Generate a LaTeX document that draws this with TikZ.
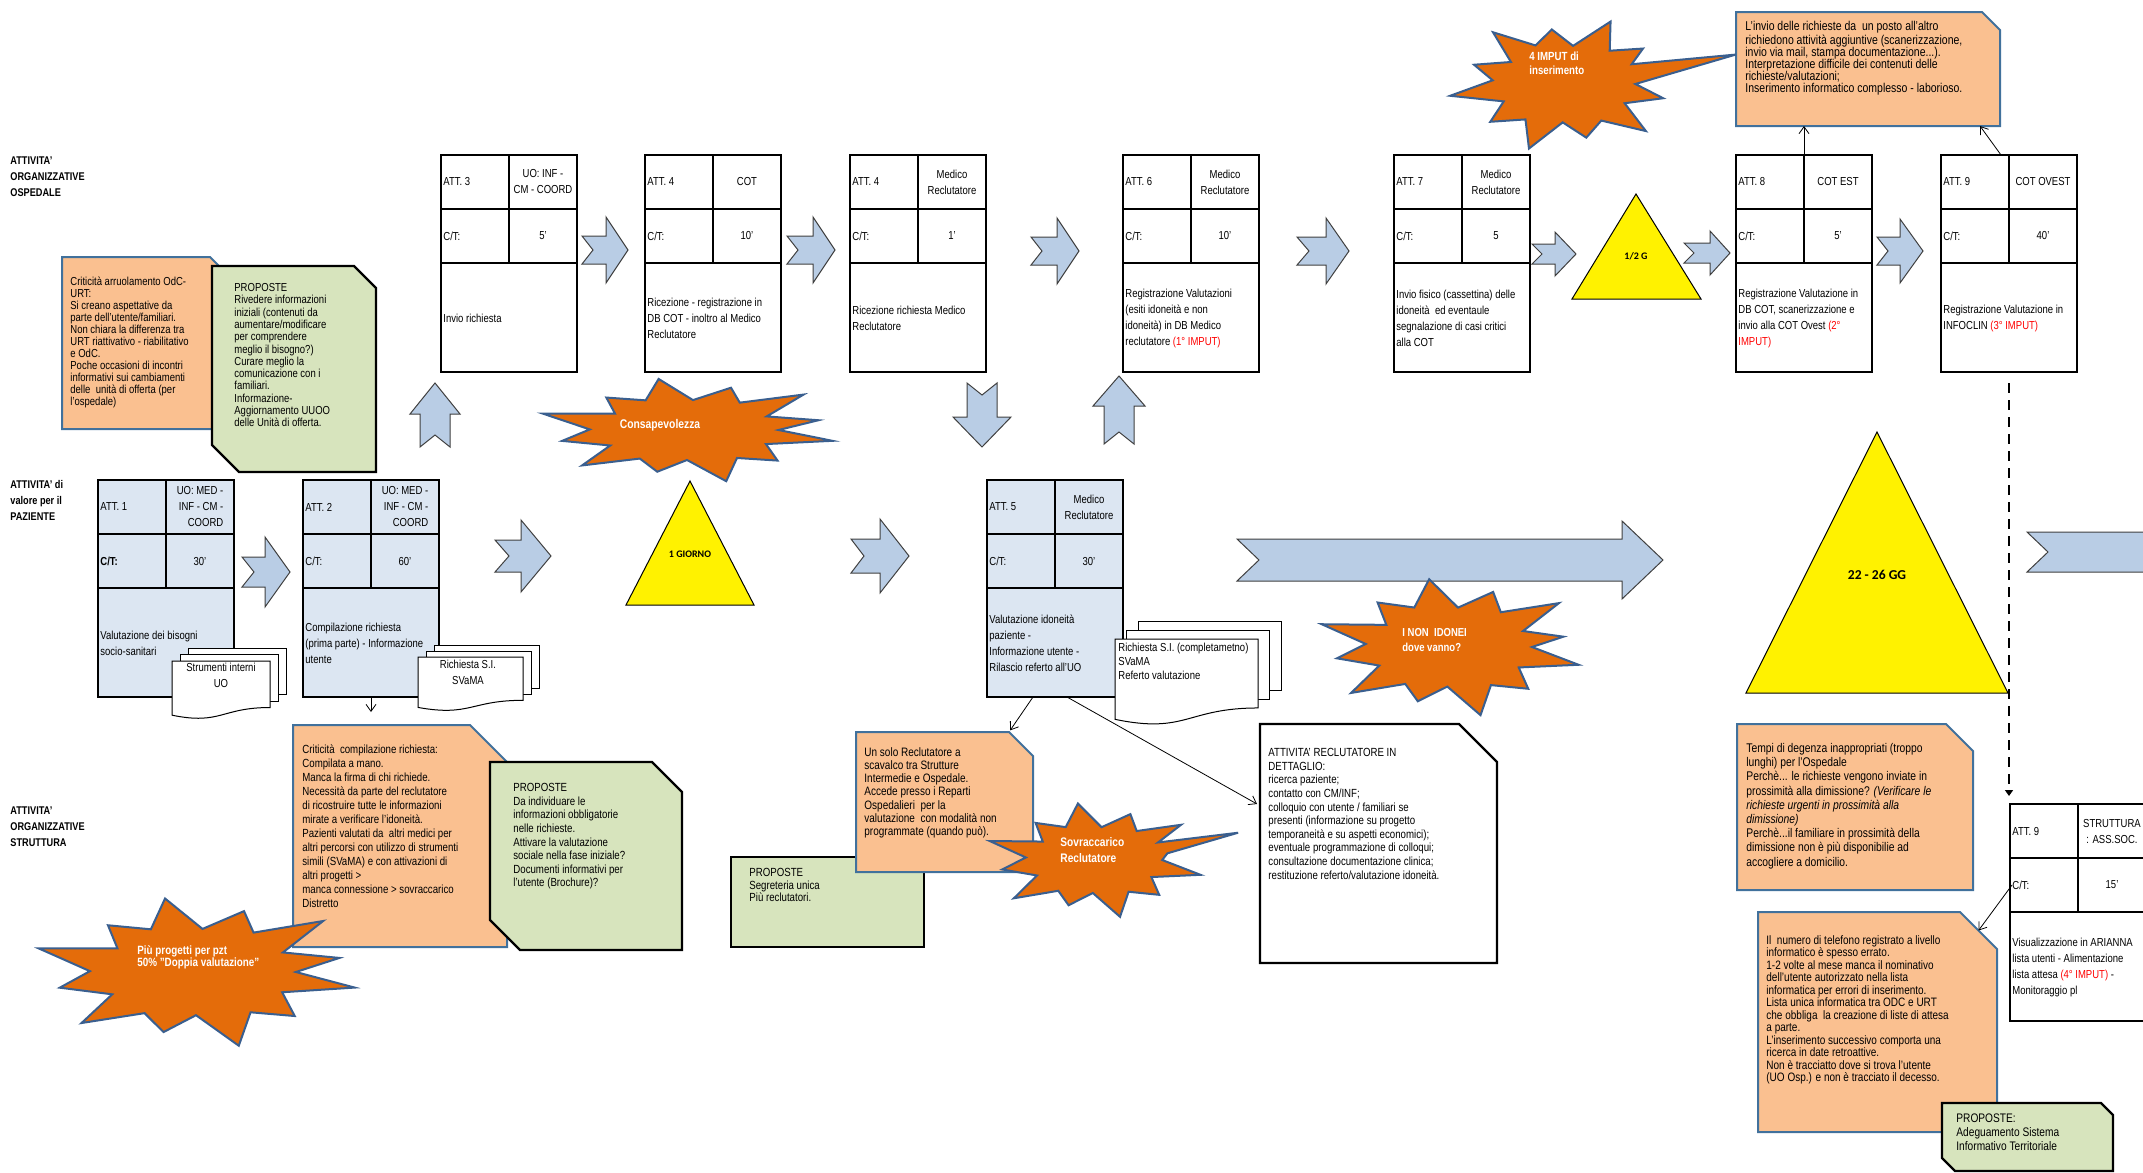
\documentclass[tikz,border=0pt]{standalone}
\usepackage{fontspec}
\setmainfont{Liberation Sans}[FakeStretch=0.82]
\newfontfamily\calfont{Carlito}
\usetikzlibrary{arrows.meta}

\definecolor{attblue}{HTML}{DCE6F2}
\definecolor{chevblue}{HTML}{B9CDE5}
\definecolor{noteorange}{HTML}{FAC090}
\definecolor{noteedge}{HTML}{41719C}
\definecolor{notegreen}{HTML}{D7E4BD}
\definecolor{burstorange}{HTML}{E46C0A}
\definecolor{burstedge}{HTML}{3A5F8F}
\definecolor{imputred}{HTML}{FF0000}

% name, x, y, fill, title, who, time, text, time label
\newcommand{\attbox}[9]{%
	\node[attframe, fill=#4, anchor=north west] at (#2,#3) (#1) {};
	\draw[attline] (#2,{#3+54}) -- ++(136,0) (#2,{#3+108}) -- ++(136,0) ({#2+68},#3) -- ++(0,108);
	\node[cell, anchor=west] at ({#2+2},{#3+27}) (#1-t) {#5};
	\node[cell, align=center] at ({#2+102},{#3+27}) (#1-w) {#6};
	\node[cell, anchor=west] at ({#2+2},{#3+81}) (#1-c) {#9};
	\node[cell] at ({#2+102},{#3+81}) (#1-v) {#7};
	\node[cell, anchor=west, align=left] at ({#2+2},{#3+163}) (#1-d) {#8};
}
% name, style, x1, y1, x2, y2, cut ne, cut sw
\newcommand{\cutbox}[8]{%
	\draw[#2] (#3,#4) -- ({#5-#7},#4) -- (#5,{#4+#7}) -- (#5,#6) -- ({#3+#8},#6) -- (#3,{#6-#8}) -- cycle;
	\coordinate (#1-ne) at ({#5-#7},#4);
	\coordinate (#1-cut) at ({#5-#7/2},{#4+#7/2});
	\coordinate (#1-n) at ({(#3+#5)/2},#4);
	\coordinate (#1-s) at ({(#3+#5)/2},#6);
	\coordinate (#1-se) at (#5,#6);
}
% rotation, cx, cy, half length, half height, head, half body, notch
\newcommand{\blockarrow}[8]{%
	\draw[chev, shift={(#2,#3)}, rotate=#1] (-#4,-#7) -- ({#4-#6},-#7) -- ({#4-#6},-#5) -- (#4,0) -- ({#4-#6},#5) -- ({#4-#6},#7) -- (-#4,#7) -- ({-#4+#8},0) -- cycle;
}
% name, x, y, w, h, dx, dy
\newcommand{\docstack}[7]{%
	\draw[docpage] ({#2+2*#6},{#3-2*#7}) rectangle ++(#4,{0.8*#5});
	\draw[docpage] ({#2+#6},{#3-#7}) rectangle ++(#4,{0.8*#5});
	\draw[docpage] (#2,#3) -- ({#2+#4},#3) -- ({#2+#4},{#3+0.802*#5}) .. controls ({#2+0.5*#4},{#3+0.802*#5}) and ({#2+0.5*#4},{#3+1.107*#5}) .. (#2,{#3+0.934*#5}) -- cycle;
	\coordinate (#1) at (#2,#3);
}
% name, cx, cy, rx, ry, points
\newcommand{\burst}[6]{%
	\draw[burstshape, shift={(#2,#3)}, xscale=#4, yscale=#5] (0:0.64) \foreach \ba/\br in {#6} { -- (\ba:\br) } -- cycle;
	\coordinate (#1) at (#2,#3);
}

\begin{document}
\begin{tikzpicture}[x=0.5pt, y=-0.5pt,
	cell/.style={inner sep=0pt, font=\fontsize{5.8}{8}\selectfont},
	attframe/.style={draw, line width=1pt, minimum width=68pt, minimum height=108.5pt, inner sep=0pt, outer sep=0pt},
	attline/.style={line width=1pt},
	chev/.style={fill=chevblue, draw=black!75, line width=0.5pt},
	note/.style={fill=noteorange, draw=noteedge, line width=1pt},
	prop/.style={fill=notegreen, draw=black, line width=1.2pt},
	dettbox/.style={fill=white, draw=black, line width=1.2pt},
	notetext/.style={anchor=north west, inner sep=0pt, align=left},
	burstshape/.style={fill=burstorange, draw=burstedge, line width=1pt},
	bursttext/.style={text=white, inner sep=0pt, align=left},
	side/.style={anchor=north west, inner sep=0pt, align=left, font=\bfseries\fontsize{5.6}{8}\selectfont},
	tri/.style={fill=yellow, draw=black, line width=0.5pt},
	trilabel/.style={inner sep=0pt, font=\calfont\bfseries\fontsize{5}{6}\selectfont},
	docpage/.style={fill=white, draw=black, line width=0.5pt},
	doctext/.style={inner sep=0pt, font=\fontsize{5.8}{7.8}\selectfont},
	thinarrow/.style={line width=0.4pt, -{Straight Barb[length=3.5pt,width=5pt]}},
	dashline/.style={line width=1.2pt, dash pattern=on 5pt off 3.5pt, -{Triangle[length=3pt,width=4pt]}}
]
\useasboundingbox (0,0) rectangle (2143,1173);
\clip (0,0) rectangle (2143,1173);

\node[side] at (10,156) (lab-osp) {ATTIVITA'\\ORGANIZZATIVE\\OSPEDALE};
\node[side] at (10,480) (lab-paz) {ATTIVITA' di\\valore per il\\PAZIENTE};
\node[side] at (10,806) (lab-str) {ATTIVITA'\\ORGANIZZATIVE\\STRUTTURA};

% flow arrows
\blockarrow{0}{266}{572}{24}{35}{25}{15}{12}
\blockarrow{0}{523}{556}{28}{36}{30}{16}{14}
\blockarrow{0}{605}{250}{23}{33}{22}{14}{11}
\blockarrow{0}{811}{250}{24}{33}{22}{14}{11}
\blockarrow{0}{1055}{251}{24}{33}{22}{14}{11}
\blockarrow{0}{1323}{251}{26}{33}{23}{14}{12}
\blockarrow{0}{1554}{254}{22}{22}{21}{10}{10}
\blockarrow{0}{1707}{253}{23}{22}{20}{10}{10}
\blockarrow{0}{1900}{251}{23}{32}{23}{14}{11}
\blockarrow{0}{880}{556}{29}{37}{29}{17}{13}
\blockarrow{0}{1450}{560}{213}{39}{41}{21}{22}
\blockarrow{0}{2127}{552}{100}{39}{41}{20}{21}
\blockarrow{90}{435}{415}{32}{25}{31}{15}{12}
\blockarrow{-90}{982}{415}{32}{29}{30}{15}{12}
\blockarrow{90}{1119}{410}{34}{26}{30}{15}{12}

% waiting times
\draw[tri] (626,605) -- (690,481) -- (754,605) -- cycle;
\node[trilabel] at (690,554) (t-giorno) {1 GIORNO};
\draw[tri] (1572,299) -- (1636,194) -- (1701,299) -- cycle;
\node[trilabel] at (1636,256) (t-mezzo) {1/2 G};
\draw[tri] (1746,693) -- (1877,432) -- (2008,693) -- cycle;
\node[trilabel, font=\calfont\bfseries\fontsize{6.8}{8}\selectfont] at (1877,575) (t-gg) {22 - 26 GG};

% activities
\attbox{att1}{98}{480}{attblue}{ATT. 1}{\begin{tabular}{@{}r@{}}UO: MED -\\INF - CM -\\COORD\end{tabular}}{30'}{Valutazione dei bisogni\\socio-sanitari}{\textbf{C/T:}}
\attbox{att2}{303}{480}{attblue}{ATT. 2}{\begin{tabular}{@{}r@{}}UO: MED -\\INF - CM -\\COORD\end{tabular}}{60'}{Compilazione richiesta\\(prima parte) - Informazione\\utente}{C/T:}
\attbox{att3}{441}{155}{white}{ATT. 3}{UO: INF -\\CM - COORD}{5'}{Invio richiesta}{C/T:}
\attbox{att4}{645}{155}{white}{ATT. 4}{COT}{10'}{Ricezione - registrazione in\\DB COT - inoltro al Medico\\Reclutatore}{C/T:}
\attbox{att4m}{850}{155}{white}{ATT. 4}{Medico\\Reclutatore}{1'}{Ricezione richiesta Medico\\Reclutatore}{C/T:}
\attbox{att6}{1123}{155}{white}{ATT. 6}{Medico\\Reclutatore}{10'}{Registrazione Valutazioni\\(esiti idoneità e non\\idoneità) in DB Medico\\reclutatore \textcolor{imputred}{(1° IMPUT)}}{C/T:}
\attbox{att7}{1394}{155}{white}{ATT. 7}{Medico\\Reclutatore}{5}{Invio fisico (cassettina) delle\\idoneità~ ed eventaule\\segnalazione di casi critici\\alla COT}{C/T:}
\attbox{att8}{1736}{155}{white}{ATT. 8}{COT EST}{5'}{Registrazione Valutazione in\\DB COT, scanerizzazione e\\invio alla COT Ovest \textcolor{imputred}{(2°}\\\textcolor{imputred}{IMPUT)}}{C/T:}
\attbox{att9}{1941}{155}{white}{ATT. 9}{COT OVEST}{40'}{Registrazione Valutazione in\\INFOCLIN \textcolor{imputred}{(3° IMPUT)}}{C/T:}
\attbox{att5}{987}{480}{attblue}{ATT. 5}{Medico\\Reclutatore}{30'}{Valutazione idoneità\\paziente -\\Informazione utente -\\Rilascio referto all'UO}{C/T:}
\attbox{att9s}{2010}{804}{white}{ATT. 9}{STRUTTURA\\: ASS.SOC.}{15'}{Visualizzazione in ARIANNA\\lista utenti - Alimentazione\\lista attesa \textcolor{imputred}{(4° IMPUT)} -\\Monitoraggio pl}{C/T:}

% documents
\docstack{strum}{172}{661}{98}{58}{8.3}{6.3}
\node[doctext, align=center, anchor=north] at (221,663) (strum-t) {Strumenti interni\\UO};
\docstack{svama}{418}{657}{105}{54}{8.3}{6}
\node[doctext, align=center, anchor=north] at (468,660) (svama-t) {Richiesta S.I.\\SVaMA};
\docstack{compl}{1115}{639}{143}{86}{11.7}{8.6}
\node[doctext, align=left, anchor=north west, font=\fontsize{5.8}{6.8}\selectfont] at (1118,643) (compl-t) {Richiesta S.I. (completametno)\\SVaMA\\Referto valutazione};

% notes
\cutbox{critA}{note}{62}{257}{218}{429}{8}{0}
\node[notetext, font=\fontsize{5.8}{6}\selectfont] at (70,277) (critA-t) {Criticità arruolamento OdC-\\URT:\\Si creano aspettative da\\parte dell'utente/familiari.\\Non chiara la differenza tra\\URT riattivativo - riabilitativo\\e OdC.\\Poche occasioni di incontri\\informativi sui cambiamenti\\delle~ unità di offerta (per\\l'ospedale)};
\cutbox{propA}{prop}{212}{266}{376}{472}{22}{27}
\node[notetext, font=\fontsize{5.8}{6.15}\selectfont] at (234,283) (propA-t) {PROPOSTE\\Rivedere informazioni\\iniziali (contenuti da\\aumentare/modificare\\per comprendere\\meglio il bisogno?)\\Curare meglio la\\comunicazione con i\\familiari.\\Informazione-\\Aggiornamento UUOO\\delle Unità di offerta.};

\cutbox{critC}{note}{293}{725}{507}{947}{37}{0}
\node[notetext, font=\fontsize{5.9}{7}\selectfont] at (302,744) (critC-t) {Criticità~ compilazione richiesta:\\Compilata a mano.\\Manca la firma di chi richiede.\\Necessità da parte del reclutatore\\di ricostruire tutte le informazioni\\mirate a verificare l'idoneità.\\Pazienti valutati da~ altri medici per\\altri percorsi con utilizzo di strumenti\\simili (SVaMA) e con attivazioni di\\altri progetti >\\manca connessione > sovraccarico\\Distretto};
\cutbox{propC}{prop}{490}{762}{682}{950}{30}{30}
\node[notetext, font=\fontsize{5.9}{6.8}\selectfont] at (513,783) (propC-t) {PROPOSTE\\Da individuare le\\informazioni obbligatorie\\nelle richieste.\\Attivare la valutazione\\sociale nella fase iniziale?\\Documenti informativi per\\l'utente (Brochure)?};

\cutbox{segr}{prop}{731}{857}{924}{947}{0}{0}
\node[notetext, font=\fontsize{5.9}{6.2}\selectfont] at (749,868) (segr-t) {PROPOSTE\\Segreteria unica\\Più reclutatori.};
\cutbox{unsolo}{note}{856}{732}{1033}{872}{24}{0}
\node[notetext, font=\fontsize{6.1}{6.6}\selectfont] at (864,747) (unsolo-t) {Un solo Reclutatore a\\scavalco tra Strutture\\Intermedie e Ospedale.\\Accede presso i Reparti\\Ospedalieri~ per la\\valutazione~ con modalità non\\programmate (quando può).};

\cutbox{dett}{dettbox}{1260}{724}{1497}{963}{38}{0}
\node[notetext, font=\fontsize{5.9}{6.8}\selectfont] at (1268,748) (dett-t) {ATTIVITA' RECLUTATORE IN\\DETTAGLIO:\\ricerca paziente;\\contatto con CM/INF;\\colloquio con utente / familiari se\\presenti (informazione su progetto\\temporaneità e su aspetti economici);\\eventuale programmazione di colloqui;\\consultazione documentazione clinica;\\restituzione referto/valutazione idoneità.};
\coordinate (dett-w) at (1257,804);

\cutbox{invio}{note}{1736}{12}{2000}{126}{18}{0}
\node[notetext, font=\fontsize{6.4}{6}\selectfont] at (1745,21) (invio-t) {L'invio delle richieste da~ un posto all'altro\\richiedono attività aggiuntive (scanerizzazione,\\invio via mail, stampa documentazione...).\\Interpretazione difficile dei contenuti delle\\richieste/valutazioni;\\Inserimento informatico complesso - laborioso.};

\cutbox{tempi}{note}{1737}{724}{1973}{890}{27}{0}
\node[notetext, font=\fontsize{6.3}{7.1}\selectfont] at (1746,743) (tempi-t) {Tempi di degenza inappropriati (troppo\\lunghi) per l'Ospedale\\Perchè... le richieste vengono inviate in\\prossimità alla dimissione? \textit{(Verificare le}\\\textit{richieste urgenti in prossimità alla}\\\textit{dimissione)}\\Perchè...il familiare in prossimità della\\dimissione non è più disponibilie ad\\accogliere a domicilio.};
\cutbox{telef}{note}{1758}{912}{1997}{1132}{37}{0}
\node[notetext, font=\fontsize{6.1}{6.25}\selectfont] at (1766,935) (telef-t) {Il~ numero di telefono registrato a livello\\informatico è spesso errato.\\1-2 volte al mese manca il nominativo\\dell'utente autorizzato nella lista\\informatica per errori di inserimento.\\Lista unica informatica tra ODC e URT\\che obbliga~ la creazione di liste di attesa\\a parte.\\L'inserimento successivo comporta una\\ricerca in date retroattive.\\Non è tracciatto dove si trova l'utente\\(UO Osp.) e non è tracciato il decesso.};
\cutbox{adeg}{prop}{1942}{1103}{2113}{1171}{12}{13}
\node[notetext, font=\fontsize{6.2}{7}\selectfont] at (1956,1113) (adeg-t) {PROPOSTE:\\Adeguamento Sistema\\Informativo Territoriale};

% critical points
\burst{conscious}{687}{430}{143}{50}{12/1.04,27/0.62,44/0.88,58/0.66,75/1.06,90/0.6,104/0.86,120/0.66,136/1.02,150/0.62,166/0.9,181/0.68,198/1.06,213/0.6,229/0.86,244/0.66,259/1.04,274/0.6,290/0.9,304/0.66,319/1.08,334/0.62,348/0.94}
\node[bursttext, font=\bfseries\fontsize{6.3}{7}\selectfont] at (660,425) (conscious-t) {Consapevolezza};
\burst{imput}{1565}{84}{110}{64}{14/0.92,29/0.62,45/1.04,60/0.66,77/0.86,92/0.6,108/1.06,123/0.66,139/0.9,154/0.62,170/1.06,185/0.66,200/0.88,215/0.6,231/1.04,246/0.66,262/0.86,277/0.6,293/1.06,308/0.66,322/0.9,333/0.68,343.5/1.62}
\node[bursttext, anchor=west, font=\bfseries\fontsize{5.9}{7}\selectfont] at (1529,63) (imput-t) {4 IMPUT di\\inserimento};
\burst{nonid}{1450}{647}{128}{66}{15/1.04,30/0.62,46/0.88,61/0.66,77/1.06,92/0.6,107/0.86,122/0.66,138/1.04,153/0.62,169/0.9,184/0.66,199/1.06,214/0.6,230/0.88,245/0.66,261/1.04,276/0.6,292/0.9,307/0.66,322/1.08,337/0.62,350/0.9}
\node[bursttext, anchor=west, font=\bfseries\fontsize{5.8}{7.5}\selectfont] at (1402,640) (nonid-t) {I NON~ IDONEI\\dove vanno?};
\burst{sovr}{1095}{860}{105}{55}{15/1.04,30/0.62,46/0.88,61/0.66,77/1.06,92/0.6,107/0.86,122/0.66,138/1.04,153/0.62,169/0.9,184/0.66,199/1.06,214/0.6,230/0.88,245/0.66,261/1.04,276/0.6,292/0.9,307/0.66,322/1.04,332/0.68,340/1.45,350/0.7}
\node[bursttext, anchor=west, font=\bfseries\fontsize{6.2}{8}\selectfont] at (1060,850) (sovr-t) {Sovraccarico\\Reclutatore};
\burst{piu}{196}{972}{156}{72}{12/1.04,27/0.62,44/0.88,58/0.66,75/1.06,90/0.6,104/0.86,120/0.66,136/1.02,150/0.62,166/0.9,181/0.68,198/1.06,213/0.6,229/0.86,244/0.66,259/1.04,274/0.6,290/0.9,304/0.66,319/1.08,334/0.62,348/0.94}
\node[bursttext, anchor=west, font=\bfseries\fontsize{6}{6}\selectfont] at (137,957) (piu-t) {Più progetti per pzt\\50\% "Doppia valutazione"};

% connectors
\draw[thinarrow, shorten >=6.5pt] (att2.south) -- (att2.south |- critC-n);
\draw[thinarrow] (att8.north) -- (att8.north |- invio-s);
\draw[thinarrow] ([xshift=-4pt]att9.north) -- ([xshift=-10pt]invio-se);
\draw[thinarrow, shorten >=1pt] ([xshift=-11pt]att5.south) -- (unsolo-ne);
\draw[thinarrow] ([xshift=6pt]att5.south) -- (dett-w);
\draw[thinarrow] (att9s-c.west) -- (telef-cut);
\draw[dashline, shorten <=5.5pt, shorten >=4pt] (att9.south) -- (att9.south |- att9s.north);
\end{tikzpicture}
\end{document}
